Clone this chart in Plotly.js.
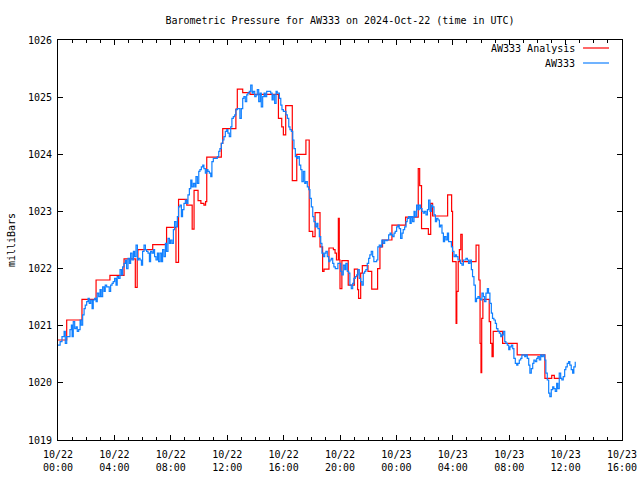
<!DOCTYPE html>
<html>
<head>
<meta charset="utf-8">
<script src="https://cdn.plot.ly/plotly-3.0.1.min.js"></script>
<style>html,body{margin:0;padding:0;background:#fff;}#chart{width:640px;height:480px;}</style>
</head>
<body>
<div id="chart"></div>
<script>
// Minutes after 2024-10-22 00:00 UTC
const baseDate = [2024, 9, 22];

// AW333 observed pressure (mb)
const obsMinutes = [
0,9,17,26,31,37,45,51,57,60,65,71,77,82,88,94,99,105,111,116,122,128,133,139,145,150,156,162,167,173,179,184,190,196,201,207,213,218,224,230,235,241,247,252,258,264,270,275,281,287,292,298,304,309,315,321,326,332,338,343,349,355,360,366,372,377,383,389,394,400,406,411,417,423,428,434,440,445,451,457,462,468,474,479,485,491,496,502,508,513,519,525,530,536,542,548,553,559,565,570,576,582,587,593,599,604,610,616,621,627,633,638,644,650,655,661,667,672,678,684,689,695,701,706,712,718,723,729,735,740,746,752,757,763,769,774,780,786,791,797,803,808,814,820,826,831,837,843,848,854,860,865,871,877,882,888,894,899,905,911,916,922,928,933,
942,948,953,959,965,970,976,982,987,993,999,1004,1010,1016,1021,1027,1033,1038,1044,1050,1055,1061,1067,1072,1078,1084,1089,1095,1101,1106,1112,1118,1123,1129,1135,1140,1146,1152,1157,1163,1169,1174,1180,1186,1191,1197,1203,1208,1214,1220,1225,1231,1237,1242,1248,1254,1259,1265,1271,1276,1282,1288,1293,1299,1305,1310,1316,1322,1327,1333,1339,1344,1350,1356,1361,1367,1373,1378,1384,1390,1396,1401,1407,1413,1418,1424,1430,1435,1441,1447,1452,1458,1464,1469,1475,1481,1486,1492,1498,1503,1509,1515,1520,1526,1532,1537,1543,1549,1554,1560,1566,1572,1577,1583,1589,1594,1600,1606,1611,1617,1623,1628,1634,1640,1645,1651,1657,1662,1668,1674,1679,1685,1691,1696,1702,
1708,1713,1719,1725,1730,1736,1742,1747,1753,1759,1764,1770,1776,1781,1787,1793,1798,1804,1810,1815,1821,1827,1832,1838,1844,1849,1855,1861,1866,1872,1878,1884,1889,1895,1901,1906,1912,1918,1923,1929,1935,1940,1946,1952,1957,1963,1969,1974,1980,1986,1991,1997,2003,2008,2014,2020,2025,2031,2037,2042,2048,2054,2059,2065,2071,2076,2082,2088,2093,2099,2105,2110,2116,2122,2127,2133,2139,2144,2150,2156,2161,2167,2173,2178,2184,2190,2195,2201
];
const obsPressure = [
1020.66,1020.72,1020.81,1020.90,1020.69,1020.81,1020.81,1020.93,1021.01,1020.81,1021.07,1020.95,1020.98,1020.90,1020.93,1021.10,1021.01,1021.19,1021.30,1021.36,1021.42,1021.48,1021.39,1021.45,1021.30,1021.45,1021.48,1021.42,1021.57,1021.51,1021.63,1021.51,1021.68,1021.60,1021.71,1021.68,1021.68,1021.60,1021.71,1021.74,1021.77,1021.83,1021.71,1021.86,1021.83,1021.98,1021.89,1022.03,1022.09,1022.15,1022.00,1022.18,1022.09,1022.27,1022.15,1022.30,1022.21,1022.41,1022.15,1022.18,1022.15,1022.06,1022.30,1022.41,1022.33,1022.30,1022.27,1022.12,1022.30,1022.27,1022.33,1022.21,1022.15,1022.27,1022.12,1022.27,1022.12,1022.33,1022.21,1022.44,1022.30,1022.53,1022.44,1022.50,1022.44,1022.68,1022.82,1022.73,1022.91,1023.08,1023.11,1022.91,1023.03,1023.14,1023.20,1023.14,1023.29,1023.40,1023.55,1023.43,1023.49,1023.43,1023.61,1023.49,1023.70,1023.73,1023.78,1023.81,1023.75,1023.67,1023.73,1023.70,1023.67,1023.61,1023.87,1023.93,1023.93,1023.93,1023.96,1024.05,1024.10,1024.19,1024.25,1024.31,1024.40,1024.43,1024.37,1024.31,1024.48,1024.63,1024.66,1024.69,1024.78,1024.80,1024.80,1024.63,1024.80,1024.98,1025.01,1024.92,1025.04,1025.07,1025.10,1025.21,1025.07,1025.10,1025.01,1025.04,1025.13,1024.92,1025.07,1024.83,1025.01,1025.07,1025.01,1025.10,1025.10,1025.10,1025.07,1024.95,1025.04,1024.89,1025.10,1025.07,
1024.98,1024.86,1024.78,1024.75,1024.75,1024.69,1024.63,1024.48,1024.43,1024.40,1024.25,1024.10,1023.96,1023.93,1023.96,1023.81,1023.73,1023.52,1023.70,1023.49,1023.52,1023.43,1023.38,1023.23,1023.08,1022.91,1022.82,1022.73,1022.79,1022.70,1022.56,1022.44,1022.27,1022.21,1022.27,1022.30,1022.21,1022.12,1022.15,1022.18,1022.09,1022.03,1022.00,1022.00,1022.09,1022.09,1021.95,1021.89,1022.06,1021.98,1022.09,1021.95,1021.92,1021.71,1021.65,1021.74,1021.83,1021.86,1021.89,1021.98,1021.83,1021.77,1021.71,1021.92,1021.95,1021.98,1022.09,1022.18,1022.24,1022.30,1022.21,1022.12,1022.12,1022.15,1022.38,1022.41,1022.38,1022.50,1022.44,1022.50,1022.49,1022.50,1022.59,1022.62,1022.59,1022.56,1022.62,1022.65,1022.73,1022.76,1022.70,1022.53,1022.62,1022.68,1022.73,1022.82,1022.88,1022.91,1022.79,1022.91,1022.82,1023.00,1022.91,1023.11,1023.03,1023.11,1023.05,1023.00,1022.97,1023.00,1022.94,1023.03,1023.20,1023.00,1023.11,1023.08,1022.94,1022.82,1022.88,1022.85,1022.73,1022.76,1022.62,1022.47,1022.56,1022.50,1022.62,1022.47,1022.47,1022.38,1022.30,1022.21,1022.24,1022.21,1022.15,
1022.15,1022.09,1022.06,1022.15,1022.15,1022.18,1022.15,1022.09,1022.15,1021.98,1021.86,1021.71,1021.42,1021.48,1021.51,1021.48,1021.45,1021.57,1021.51,1021.42,1021.57,1021.65,1021.57,1021.39,1021.22,1021.13,1021.10,1021.04,1020.95,1020.90,1020.87,1020.81,1020.84,1020.90,1020.72,1020.69,1020.66,1020.58,1020.63,1020.66,1020.60,1020.43,1020.34,1020.31,1020.34,1020.40,1020.43,1020.49,1020.49,1020.46,1020.49,1020.43,1020.31,1020.17,1020.25,1020.34,1020.40,1020.37,1020.43,1020.46,1020.40,1020.49,1020.46,1020.49,1020.40,1020.17,1020.05,1019.82,1019.76,1019.88,1019.93,1019.90,1019.85,1019.99,1019.90,1020.17,1020.08,1020.05,1020.11,1020.23,1020.28,1020.34,1020.37,1020.31,1020.23,1020.17,1020.28,1020.37
];

// AW333 analysis pressure (mb), step changes
const anaMinutes = [0,37,102,162,221,281,329,337,340,403,462,502,513,548,571,579,596,608,621,628,633,695,701,757,763,786,817,938,952,959,969,997,1016,1055,1069,1084,1094,1115,1126,1132,1153,1172,1179,1185,1193,1197,1200,1208,1235,1261,1275,1279,1288,1295,1319,1335,1360,1370,1381,1421,1479,1533,1539,1547,1576,1586,1594,1658,1675,1679,1694,1697,1703,1708,1714,1720,1779,1791,1796,1800,1803,1808,1835,1841,1847,1852,1892,1954,2072,2101,2112,2143];
const anaPressure = [1020.75,1021.10,1021.46,1021.80,1021.88,1022.17,1021.67,1022.17,1022.33,1022.42,1022.72,1022.11,1023.21,1023.11,1022.69,1023.37,1023.19,1023.14,1023.11,1023.17,1023.95,1024.19,1024.45,1024.79,1025.14,1025.08,1025.05,1024.63,1024.48,1024.34,1024.85,1023.54,1024.00,1024.25,1022.65,1022.56,1022.98,1022.38,1021.95,1021.99,1022.36,1022.33,1022.27,1022.15,1022.88,1022.15,1021.65,1022.14,1021.71,1021.99,1021.63,1021.48,1021.92,1022.05,1021.95,1021.64,1022.00,1022.38,1022.50,1022.76,1022.90,1023.75,1023.45,1022.70,1022.60,1023.14,1022.92,1023.29,1023.00,1022.12,1021.04,1021.60,1022.12,1022.33,1022.60,1022.12,1022.41,1021.80,1020.69,1020.18,1021.13,1021.46,1021.07,1020.69,1020.46,1020.90,1020.69,1020.49,1020.08,1020.13,1020.08,1020.08];

// Axis ticks
const tickHours = [0, 4, 8, 12, 16, 20, 24, 28, 32, 36, 40];
const tickLabels = ['10/22<br>00:00','10/22<br>04:00','10/22<br>08:00','10/22<br>12:00','10/22<br>16:00','10/22<br>20:00','10/23<br>00:00','10/23<br>04:00','10/23<br>08:00','10/23<br>12:00','10/23<br>16:00'];
const seriesNames = ['AW333 Analysis', 'AW333'];
const seriesColors = ['#ff0000', '#1080ff'];

function toDate(mins) {
  const d = new Date(Date.UTC(baseDate[0], baseDate[1], baseDate[2], 0, 0, 0) + mins * 60000);
  return d.toISOString().slice(0, 19).replace('T', ' ');
}

const FONT = 'DejaVu Sans Mono, Liberation Mono, monospace';

const traces = [
  {
    x: anaMinutes.map(toDate), y: anaPressure, name: seriesNames[0],
    type: 'scatter', mode: 'lines', line: {color: seriesColors[0], width: 1.2, shape: 'hv'},
    showlegend: false
  },
  {
    x: obsMinutes.map(toDate), y: obsPressure, name: seriesNames[1],
    type: 'scatter', mode: 'lines', line: {color: seriesColors[1], width: 1.2, shape: 'hv'},
    showlegend: false
  }
];

// gnuplot-style legend: right-aligned text followed by line sample
const legendY = [0.98, 0.9425];
const annotations = seriesNames.map((n, i) => ({
  xref: 'paper', yref: 'paper', x: 0.9202, y: legendY[i], xanchor: 'right', yanchor: 'middle',
  text: n, showarrow: false, font: {family: FONT, size: 10, color: '#000'}
}));
const shapes = seriesNames.map((n, i) => ({
  type: 'line', xref: 'paper', yref: 'paper', x0: 0.9309, x1: 0.977, y0: legendY[i], y1: legendY[i],
  line: {color: seriesColors[i], width: 1.2}
}));

const layout = {
  width: 640, height: 480,
  margin: {l: 58, r: 18, t: 40, b: 40, pad: 0},
  paper_bgcolor: '#fff', plot_bgcolor: '#fff',
  font: {family: FONT, size: 10, color: '#000'},
  title: {text: 'Barometric Pressure for AW333 on 2024-Oct-22 (time in UTC)', x: 0.5, xref: 'paper', xanchor: 'center',
          y: 1 - 20/480, yref: 'container', yanchor: 'middle', font: {family: FONT, size: 10, color: '#000'}},
  xaxis: {
    type: 'date', range: [toDate(0), toDate(40*60)],
    tickmode: 'array', tickvals: tickHours.map(h => toDate(h*60)), ticktext: tickLabels,
    ticks: 'inside', ticklen: 5, tickwidth: 1, tickcolor: '#000', ticklabelstandoff: 5,
    minor: {tickmode: 'linear', tick0: toDate(0), dtick: 3600000, ticks: 'inside', ticklen: 3, tickcolor: '#000', showgrid: false},
    showline: true, linecolor: '#000', linewidth: 1, mirror: 'allticks',
    showgrid: false, zeroline: false, tickfont: {family: FONT, size: 10, color: '#000'}
  },
  yaxis: {
    range: [1019, 1026], tickmode: 'linear', tick0: 1019, dtick: 1,
    ticks: 'inside', ticklen: 5, tickwidth: 1, tickcolor: '#000', ticklabelstandoff: 3,
    showline: true, linecolor: '#000', linewidth: 1, mirror: 'allticks',
    showgrid: false, zeroline: false, tickfont: {family: FONT, size: 10, color: '#000'},
    title: {text: 'milliBars', standoff: 10, font: {family: FONT, size: 10, color: '#000'}}
  },
  annotations: annotations,
  shapes: shapes
};

Plotly.newPlot('chart', traces, layout, {staticPlot: true, displayModeBar: false});
</script>
</body>
</html>
